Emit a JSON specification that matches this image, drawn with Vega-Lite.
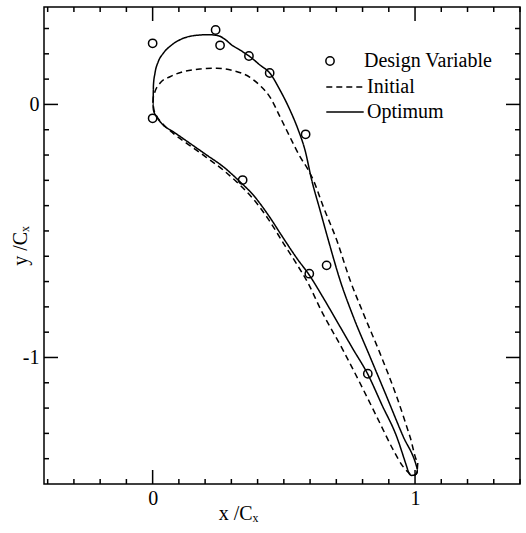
{
  "$schema": "https://vega.github.io/schema/vega-lite/v6.json",
  "autosize": "none",
  "width": 476,
  "height": 477,
  "padding": {"left": 44, "top": 7, "right": 6, "bottom": 49},
  "background": "white",
  "config": {
    "view": {"stroke": "black", "strokeWidth": 1.5},
    "font": "Liberation Serif",
    "axis": {"grid": false, "domain": false, "labelFont": "Liberation Serif", "labelFontSize": 20, "labelColor": "black", "titleFont": "Liberation Serif", "titleFontSize": 20, "titleFontWeight": "normal", "titleColor": "black", "labelOverlap": false, "labelFlush": false},
    "legend": {"labelFont": "Liberation Serif", "labelFontSize": 20, "labelColor": "black"}
  },
  "datasets": {
    "ticks": [
      {"axis": "x", "v": -0.4, "major": 0}, {"axis": "x", "v": -0.3, "major": 0}, {"axis": "x", "v": -0.2, "major": 0}, {"axis": "x", "v": -0.1, "major": 0},
      {"axis": "x", "v": 0, "major": 1}, {"axis": "x", "v": 0.1, "major": 0}, {"axis": "x", "v": 0.2, "major": 0}, {"axis": "x", "v": 0.3, "major": 0},
      {"axis": "x", "v": 0.4, "major": 0}, {"axis": "x", "v": 0.5, "major": 0}, {"axis": "x", "v": 0.6, "major": 0}, {"axis": "x", "v": 0.7, "major": 0},
      {"axis": "x", "v": 0.8, "major": 0}, {"axis": "x", "v": 0.9, "major": 0}, {"axis": "x", "v": 1, "major": 1}, {"axis": "x", "v": 1.1, "major": 0},
      {"axis": "x", "v": 1.2, "major": 0}, {"axis": "x", "v": 1.3, "major": 0}, {"axis": "x", "v": 1.4, "major": 0},
      {"axis": "y", "v": -1.4, "major": 0}, {"axis": "y", "v": -1.3, "major": 0}, {"axis": "y", "v": -1.2, "major": 0}, {"axis": "y", "v": -1.1, "major": 0},
      {"axis": "y", "v": -1, "major": 1}, {"axis": "y", "v": -0.9, "major": 0}, {"axis": "y", "v": -0.8, "major": 0}, {"axis": "y", "v": -0.7, "major": 0},
      {"axis": "y", "v": -0.6, "major": 0}, {"axis": "y", "v": -0.5, "major": 0}, {"axis": "y", "v": -0.4, "major": 0}, {"axis": "y", "v": -0.3, "major": 0},
      {"axis": "y", "v": -0.2, "major": 0}, {"axis": "y", "v": -0.1, "major": 0}, {"axis": "y", "v": 0, "major": 1}, {"axis": "y", "v": 0.1, "major": 0},
      {"axis": "y", "v": 0.2, "major": 0}, {"axis": "y", "v": 0.3, "major": 0}
    ],
    "curves": [
      {"series": "Optimum", "i": 1, "x": 1.0088, "y": -1.4411},
      {"series": "Optimum", "i": 2, "x": 1.0019, "y": -1.4174},
      {"series": "Optimum", "i": 3, "x": 0.9554, "y": -1.3134},
      {"series": "Optimum", "i": 4, "x": 0.8921, "y": -1.1553},
      {"series": "Optimum", "i": 5, "x": 0.8284, "y": -0.9972},
      {"series": "Optimum", "i": 6, "x": 0.7648, "y": -0.8391},
      {"series": "Optimum", "i": 7, "x": 0.7141, "y": -0.6941},
      {"series": "Optimum", "i": 8, "x": 0.6695, "y": -0.536},
      {"series": "Optimum", "i": 9, "x": 0.6378, "y": -0.4174},
      {"series": "Optimum", "i": 10, "x": 0.6062, "y": -0.2988},
      {"series": "Optimum", "i": 11, "x": 0.5806, "y": -0.1802},
      {"series": "Optimum", "i": 12, "x": 0.5551, "y": -0.1012},
      {"series": "Optimum", "i": 13, "x": 0.5234, "y": -0.0221},
      {"series": "Optimum", "i": 14, "x": 0.4853, "y": 0.0569},
      {"series": "Optimum", "i": 15, "x": 0.4472, "y": 0.1229},
      {"series": "Optimum", "i": 16, "x": 0.4091, "y": 0.1557},
      {"series": "Optimum", "i": 17, "x": 0.371, "y": 0.1885},
      {"series": "Optimum", "i": 18, "x": 0.3328, "y": 0.215},
      {"series": "Optimum", "i": 19, "x": 0.3012, "y": 0.2348},
      {"series": "Optimum", "i": 20, "x": 0.2756, "y": 0.2573},
      {"series": "Optimum", "i": 21, "x": 0.2501, "y": 0.2715},
      {"series": "Optimum", "i": 22, "x": 0.212, "y": 0.2755},
      {"series": "Optimum", "i": 23, "x": 0.1677, "y": 0.2731},
      {"series": "Optimum", "i": 24, "x": 0.1167, "y": 0.2613},
      {"series": "Optimum", "i": 25, "x": 0.0724, "y": 0.2348},
      {"series": "Optimum", "i": 26, "x": 0.0404, "y": 0.202},
      {"series": "Optimum", "i": 27, "x": 0.0213, "y": 0.1688},
      {"series": "Optimum", "i": 28, "x": 0.0088, "y": 0.1229},
      {"series": "Optimum", "i": 29, "x": 0.0031, "y": 0.0767},
      {"series": "Optimum", "i": 30, "x": 0.0023, "y": 0.0372},
      {"series": "Optimum", "i": 31, "x": 0.0011, "y": 0.0016},
      {"series": "Optimum", "i": 32, "x": 0.0031, "y": -0.0221},
      {"series": "Optimum", "i": 33, "x": 0.0153, "y": -0.0486},
      {"series": "Optimum", "i": 34, "x": 0.0404, "y": -0.0814},
      {"series": "Optimum", "i": 35, "x": 0.0785, "y": -0.1079},
      {"series": "Optimum", "i": 36, "x": 0.1422, "y": -0.1538},
      {"series": "Optimum", "i": 37, "x": 0.2059, "y": -0.2},
      {"series": "Optimum", "i": 38, "x": 0.2692, "y": -0.2462},
      {"series": "Optimum", "i": 39, "x": 0.3328, "y": -0.3055},
      {"series": "Optimum", "i": 40, "x": 0.3835, "y": -0.3581},
      {"series": "Optimum", "i": 41, "x": 0.4407, "y": -0.4372},
      {"series": "Optimum", "i": 42, "x": 0.4979, "y": -0.5281},
      {"series": "Optimum", "i": 43, "x": 0.549, "y": -0.6071},
      {"series": "Optimum", "i": 44, "x": 0.597, "y": -0.6743},
      {"series": "Optimum", "i": 45, "x": 0.6531, "y": -0.7692},
      {"series": "Optimum", "i": 46, "x": 0.7084, "y": -0.868},
      {"series": "Optimum", "i": 47, "x": 0.7636, "y": -0.9668},
      {"series": "Optimum", "i": 48, "x": 0.8197, "y": -1.0656},
      {"series": "Optimum", "i": 49, "x": 0.8742, "y": -1.1881},
      {"series": "Optimum", "i": 50, "x": 0.9302, "y": -1.3134},
      {"series": "Optimum", "i": 51, "x": 0.9676, "y": -1.4292},
      {"series": "Optimum", "i": 52, "x": 0.9752, "y": -1.453},
      {"series": "Optimum", "i": 53, "x": 0.9867, "y": -1.466},
      {"series": "Optimum", "i": 54, "x": 0.9981, "y": -1.4648},
      {"series": "Optimum", "i": 55, "x": 1.0076, "y": -1.4549},
      {"series": "Optimum", "i": 56, "x": 1.0088, "y": -1.4411},
      {"series": "Initial", "i": 1, "x": 1.0088, "y": -1.4411},
      {"series": "Initial", "i": 2, "x": 1.0114, "y": -1.4134},
      {"series": "Initial", "i": 3, "x": 0.9809, "y": -1.3134},
      {"series": "Initial", "i": 4, "x": 0.9302, "y": -1.1553},
      {"series": "Initial", "i": 5, "x": 0.8666, "y": -0.9838},
      {"series": "Initial", "i": 6, "x": 0.8029, "y": -0.8257},
      {"series": "Initial", "i": 7, "x": 0.7522, "y": -0.6941},
      {"series": "Initial", "i": 8, "x": 0.7015, "y": -0.536},
      {"series": "Initial", "i": 9, "x": 0.6504, "y": -0.4043},
      {"series": "Initial", "i": 10, "x": 0.6123, "y": -0.2988},
      {"series": "Initial", "i": 11, "x": 0.5932, "y": -0.2593},
      {"series": "Initial", "i": 12, "x": 0.5616, "y": -0.2067},
      {"series": "Initial", "i": 13, "x": 0.5234, "y": -0.1289},
      {"series": "Initial", "i": 14, "x": 0.4853, "y": -0.0486},
      {"series": "Initial", "i": 15, "x": 0.4472, "y": 0.0292},
      {"series": "Initial", "i": 16, "x": 0.4091, "y": 0.0747},
      {"series": "Initial", "i": 17, "x": 0.371, "y": 0.1071},
      {"series": "Initial", "i": 18, "x": 0.3073, "y": 0.1332},
      {"series": "Initial", "i": 19, "x": 0.244, "y": 0.1427},
      {"series": "Initial", "i": 20, "x": 0.1803, "y": 0.1399},
      {"series": "Initial", "i": 21, "x": 0.1167, "y": 0.1292},
      {"series": "Initial", "i": 22, "x": 0.066, "y": 0.1095},
      {"series": "Initial", "i": 23, "x": 0.0278, "y": 0.0834},
      {"series": "Initial", "i": 24, "x": 0.0088, "y": 0.0502},
      {"series": "Initial", "i": 25, "x": 0.0023, "y": 0.0253},
      {"series": "Initial", "i": 26, "x": 0.0011, "y": 0.0016},
      {"series": "Initial", "i": 27, "x": 0.005, "y": -0.0221},
      {"series": "Initial", "i": 28, "x": 0.0164, "y": -0.0478},
      {"series": "Initial", "i": 29, "x": 0.0355, "y": -0.0735},
      {"series": "Initial", "i": 30, "x": 0.0785, "y": -0.1142},
      {"series": "Initial", "i": 31, "x": 0.1422, "y": -0.1625},
      {"series": "Initial", "i": 32, "x": 0.2059, "y": -0.2099},
      {"series": "Initial", "i": 33, "x": 0.2692, "y": -0.2593},
      {"series": "Initial", "i": 34, "x": 0.3328, "y": -0.3186},
      {"series": "Initial", "i": 35, "x": 0.3835, "y": -0.3739},
      {"series": "Initial", "i": 36, "x": 0.4407, "y": -0.453},
      {"series": "Initial", "i": 37, "x": 0.4979, "y": -0.5478},
      {"series": "Initial", "i": 38, "x": 0.549, "y": -0.6308},
      {"series": "Initial", "i": 39, "x": 0.5921, "y": -0.7059},
      {"series": "Initial", "i": 40, "x": 0.6416, "y": -0.8126},
      {"series": "Initial", "i": 41, "x": 0.7255, "y": -0.9708},
      {"series": "Initial", "i": 42, "x": 0.798, "y": -1.117},
      {"series": "Initial", "i": 43, "x": 0.8666, "y": -1.2605},
      {"series": "Initial", "i": 44, "x": 0.9173, "y": -1.366},
      {"series": "Initial", "i": 45, "x": 0.9543, "y": -1.4312},
      {"series": "Initial", "i": 46, "x": 0.9752, "y": -1.4549},
      {"series": "Initial", "i": 47, "x": 0.9867, "y": -1.466},
      {"series": "Initial", "i": 48, "x": 0.9981, "y": -1.4648},
      {"series": "Initial", "i": 49, "x": 1.0076, "y": -1.4549},
      {"series": "Initial", "i": 50, "x": 1.0088, "y": -1.4411}
    ],
    "dv": [
      {"kind": "Design Variable", "x": 0.0, "y": 0.2415},
      {"kind": "Design Variable", "x": 0.24, "y": 0.294},
      {"kind": "Design Variable", "x": 0.257, "y": 0.2336},
      {"kind": "Design Variable", "x": 0.367, "y": 0.1913},
      {"kind": "Design Variable", "x": 0.446, "y": 0.1241},
      {"kind": "Design Variable", "x": 0.583, "y": -0.1182},
      {"kind": "Design Variable", "x": 0.663, "y": -0.636},
      {"kind": "Design Variable", "x": 0.597, "y": -0.669},
      {"kind": "Design Variable", "x": 0.82, "y": -1.0644},
      {"kind": "Design Variable", "x": 0.343, "y": -0.2988},
      {"kind": "Design Variable", "x": 0.0, "y": -0.0549}
    ]
  },
  "layer": [
    {
      "data": {"name": "curves"},
      "mark": {"type": "line", "color": "black", "strokeWidth": 1.5, "interpolate": "monotone"},
      "encoding": {
        "x": {"field": "x", "type": "quantitative", "scale": {"domain": [-0.414, 1.4], "nice": false, "zero": false},
          "axis": {"orient": "bottom", "title": "x /Cₓ", "titleX": 194, "titleY": 29, "titleBaseline": "middle",
            "values": [0, 1], "ticks": false, "labelPadding": 4,
            "labelExpr": "datum.value == 0 ? '0' : '1'"}},
        "y": {"field": "y", "type": "quantitative", "scale": {"domain": [-1.5, 0.385], "nice": false, "zero": false},
          "axis": {"orient": "left", "title": "y /Cₓ", "titleX": -24, "titleBaseline": "middle",
            "values": [-1, 0], "ticks": false, "labelPadding": 5,
            "labelExpr": "datum.value == 0 ? '0' : '-1'"}},
        "order": {"field": "i", "type": "quantitative"},
        "strokeDash": {"field": "series", "type": "nominal",
          "scale": {"domain": ["Initial", "Optimum"], "range": [[6, 4], [1, 0]]},
          "legend": {"title": null, "orient": "none", "legendX": 291, "legendY": 70, "symbolType": "M-5,0H5", "symbolSize": 56, "symbolStrokeColor": "black", "symbolStrokeWidth": 1.5, "symbolFillColor": "transparent", "labelOffset": 12, "rowPadding": 5}}
      }
    },
    {
      "data": {"name": "dv"},
      "mark": {"type": "point", "shape": "circle", "size": 69, "color": "black", "filled": false, "strokeWidth": 1.5, "opacity": 1},
      "encoding": {
        "x": {"field": "x", "type": "quantitative"},
        "y": {"field": "y", "type": "quantitative"},
        "shape": {"field": "kind", "type": "nominal", "scale": {"range": ["circle"]},
          "legend": {"title": null, "orient": "none", "legendX": 276, "legendY": 44, "symbolType": "circle", "symbolSize": 69, "symbolFillColor": "transparent", "symbolStrokeColor": "black", "symbolStrokeWidth": 1.5, "symbolOpacity": 1, "labelOffset": 24}}
      }
    },
    {
      "data": {"name": "ticks"},
      "transform": [{"filter": "datum.axis == 'x'"}],
      "layer": [
        {"transform": [{"filter": "datum.major == 1"}],
         "mark": {"type": "point", "shape": "M0,0V-1", "size": 784, "filled": false, "color": "black", "strokeWidth": 1.5, "opacity": 1},
         "encoding": {"x": {"field": "v", "type": "quantitative"}, "y": {"datum": -1.5, "type": "quantitative"}}},
        {"transform": [{"filter": "datum.major == 0"}],
         "mark": {"type": "point", "shape": "M0,0V-1", "size": 100, "filled": false, "color": "black", "strokeWidth": 1.5, "opacity": 1},
         "encoding": {"x": {"field": "v", "type": "quantitative"}, "y": {"datum": -1.5, "type": "quantitative"}}},
        {"transform": [{"filter": "datum.major == 1"}],
         "mark": {"type": "point", "shape": "M0,0V1", "size": 784, "filled": false, "color": "black", "strokeWidth": 1.5, "opacity": 1},
         "encoding": {"x": {"field": "v", "type": "quantitative"}, "y": {"datum": 0.385, "type": "quantitative"}}},
        {"transform": [{"filter": "datum.major == 0"}],
         "mark": {"type": "point", "shape": "M0,0V1", "size": 100, "filled": false, "color": "black", "strokeWidth": 1.5, "opacity": 1},
         "encoding": {"x": {"field": "v", "type": "quantitative"}, "y": {"datum": 0.385, "type": "quantitative"}}}
      ]
    },
    {
      "data": {"name": "ticks"},
      "transform": [{"filter": "datum.axis == 'y'"}],
      "layer": [
        {"transform": [{"filter": "datum.major == 1"}],
         "mark": {"type": "point", "shape": "M0,0H1", "size": 784, "filled": false, "color": "black", "strokeWidth": 1.5, "opacity": 1},
         "encoding": {"y": {"field": "v", "type": "quantitative"}, "x": {"datum": -0.414, "type": "quantitative"}}},
        {"transform": [{"filter": "datum.major == 0"}],
         "mark": {"type": "point", "shape": "M0,0H1", "size": 100, "filled": false, "color": "black", "strokeWidth": 1.5, "opacity": 1},
         "encoding": {"y": {"field": "v", "type": "quantitative"}, "x": {"datum": -0.414, "type": "quantitative"}}},
        {"transform": [{"filter": "datum.major == 1"}],
         "mark": {"type": "point", "shape": "M0,0H-1", "size": 784, "filled": false, "color": "black", "strokeWidth": 1.5, "opacity": 1},
         "encoding": {"y": {"field": "v", "type": "quantitative"}, "x": {"datum": 1.4, "type": "quantitative"}}},
        {"transform": [{"filter": "datum.major == 0"}],
         "mark": {"type": "point", "shape": "M0,0H-1", "size": 100, "filled": false, "color": "black", "strokeWidth": 1.5, "opacity": 1},
         "encoding": {"y": {"field": "v", "type": "quantitative"}, "x": {"datum": 1.4, "type": "quantitative"}}}
      ]
    }
  ]
}
